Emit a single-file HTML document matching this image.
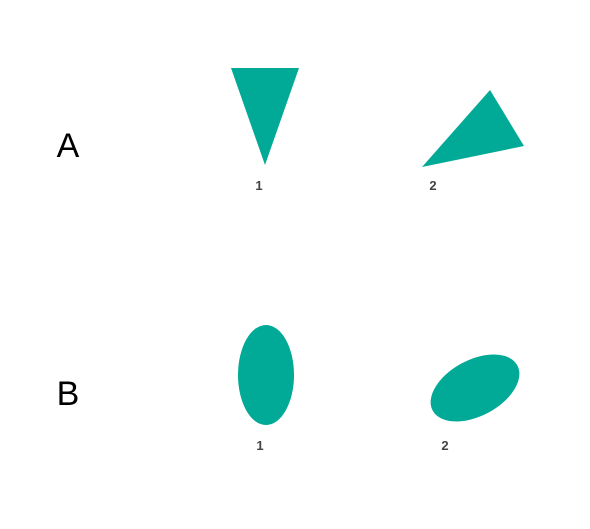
<!DOCTYPE html>
<html><head><meta charset="utf-8"><style>
html,body{margin:0;padding:0;background:#fff;}
svg{display:block;}
</style></head><body>
<svg width="590" height="529" viewBox="0 0 590 529" xmlns="http://www.w3.org/2000/svg">
  <text x="68" y="157" font-family="Liberation Sans, sans-serif" font-size="34" fill="#000" text-anchor="middle">A</text>
  <text x="68" y="405" font-family="Liberation Sans, sans-serif" font-size="34" fill="#000" text-anchor="middle">B</text>

  <polygon points="231,68 299,68 265,165" fill="#00aa96"/>
  <polygon points="422,167 490,90 524,146" fill="#00aa96"/>
  <ellipse cx="266" cy="375" rx="28" ry="50" fill="#00aa96"/>
  <ellipse cx="475" cy="388" rx="48" ry="28" transform="rotate(-28 475 388)" fill="#00aa96"/>

  <g font-family="Liberation Sans, sans-serif" font-size="13" font-weight="bold" fill="#444" text-anchor="middle">
    <text x="259" y="190">1</text>
    <text x="433" y="190">2</text>
    <text x="260" y="450">1</text>
    <text x="445" y="450">2</text>
  </g>
</svg>
</body></html>
